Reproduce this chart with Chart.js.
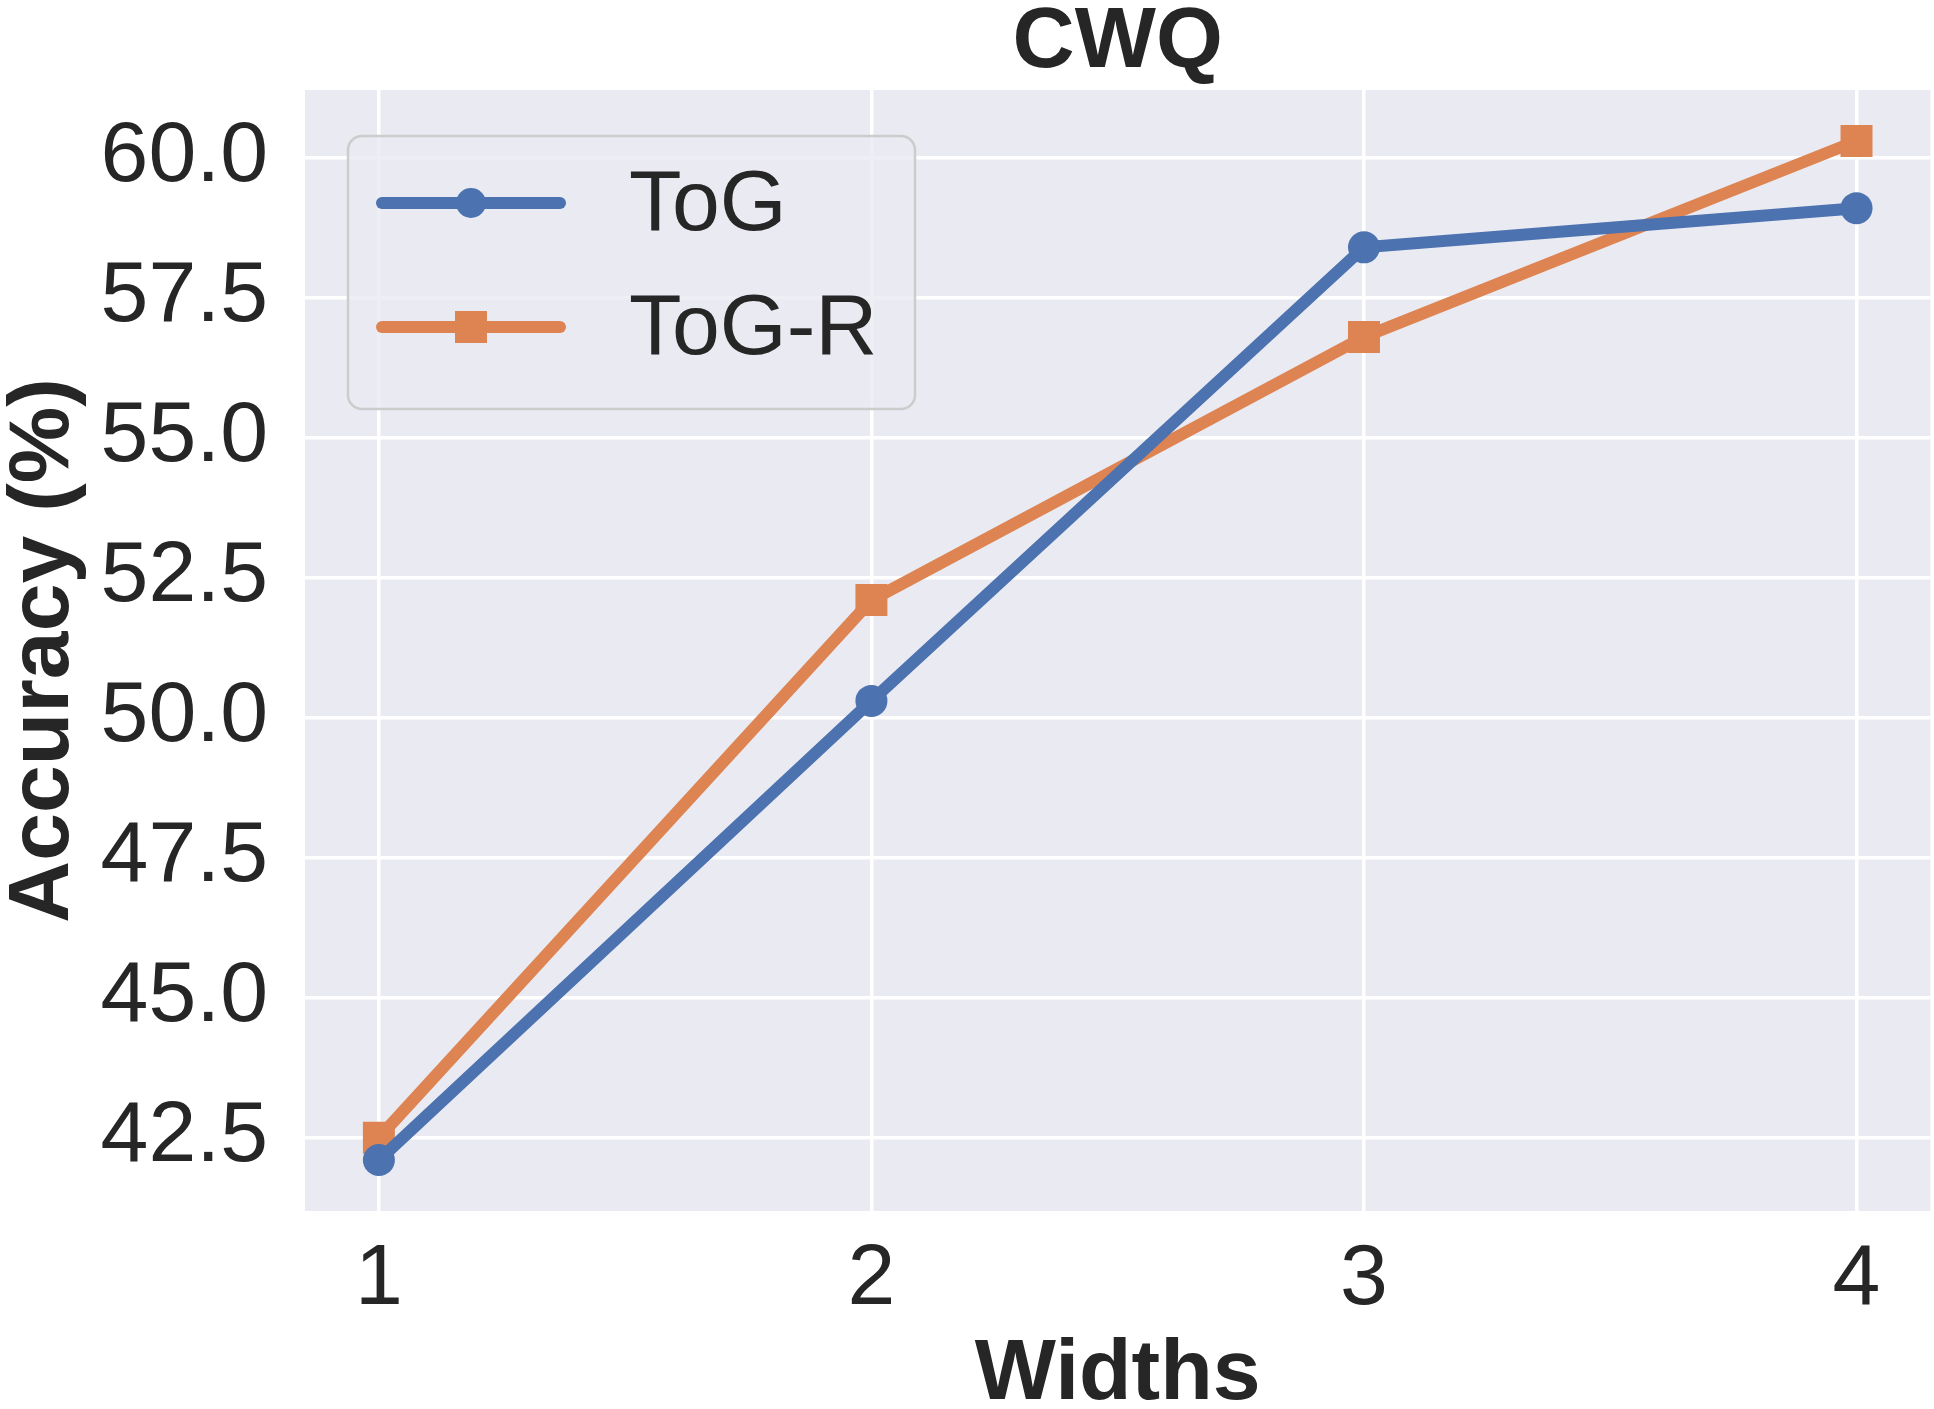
<!DOCTYPE html>
<html>
<head>
<meta charset="utf-8">
<script src="https://cdn.jsdelivr.net/npm/chart.js@4.4.0/dist/chart.umd.min.js"></script>
<style>
  html, body { margin: 0; padding: 0; overflow: hidden; background: #ffffff; }
  /* a little wider than the window: Chart.js keeps ~19px spare on the right for the last x label */
  #wrap { position: relative; width: 1953px; height: 1409px; }
</style>
</head>
<body>
<div id="wrap"><canvas id="cwq"></canvas></div>
<script>
var widths = [1, 2, 3, 4];
var togAcc = [42.1, 50.3, 58.4, 59.1];
var togRAcc = [42.5, 52.1, 56.8, 60.3];
var yTicks = [42.5, 45.0, 47.5, 50.0, 52.5, 55.0, 57.5, 60.0];
var xTicks = [1, 2, 3, 4];

var FONT = "'Liberation Sans', Arial, sans-serif";
var TEXT = '#262626';

function toPoints(vals) {
    return widths.map(function (w, i) { return { x: w, y: vals[i] }; });
}

// grey plot background like seaborn darkgrid
var bgPlugin = {
    id: 'plotBg',
    beforeDraw: function (chart) {
        var a = chart.chartArea, c = chart.ctx;
        c.save();
        c.fillStyle = '#EAEAF2';
        c.fillRect(a.left, a.top, a.right - a.left, a.bottom - a.top);
        c.restore();
    }
};

// legend drawn inside the plot, upper left
var innerLegend = {
    id: 'innerLegend',
    afterDraw: function (chart) {
        var c = chart.ctx;
        var bx = 348, by = 136, bw = 567, bh = 273, r = 14;
        c.save();
        c.beginPath();
        c.moveTo(bx + r, by);
        c.arcTo(bx + bw, by, bx + bw, by + bh, r);
        c.arcTo(bx + bw, by + bh, bx, by + bh, r);
        c.arcTo(bx, by + bh, bx, by, r);
        c.arcTo(bx, by, bx + bw, by, r);
        c.closePath();
        c.fillStyle = 'rgba(234,234,242,0.8)';
        c.fill();
        c.strokeStyle = '#cccccc';
        c.lineWidth = 2.5;
        c.stroke();

        chart.data.datasets.forEach(function (ds, i) {
            var y = 203 + i * 124;
            c.strokeStyle = ds.borderColor;
            c.lineWidth = ds.borderWidth;
            c.lineCap = 'round';
            c.beginPath();
            c.moveTo(382, y);
            c.lineTo(560, y);
            c.stroke();
            c.fillStyle = ds.borderColor;
            if (ds.pointStyle === 'rect') {
                c.fillRect(471 - 16, y - 16, 32, 32);
            } else {
                c.beginPath();
                c.arc(471, y, 15, 0, Math.PI * 2);
                c.fill();
            }
            c.fillStyle = TEXT;
            c.font = '86px ' + FONT;
            c.textBaseline = 'middle';
            c.textAlign = 'left';
            c.fillText(ds.label, 629, y + 3);
        });
        c.restore();
    }
};

var ctx = document.getElementById('cwq');

var myChart = new Chart(ctx, {
    type: 'line',
    data: {
        datasets: [
            {
                label: 'ToG',
                data: toPoints(togAcc),
                borderColor: '#4C72B0',
                backgroundColor: '#4C72B0',
                borderWidth: 12,
                pointStyle: 'circle',
                pointRadius: 16,
                pointBorderWidth: 0,
                tension: 0
            },
            {
                label: 'ToG-R',
                data: toPoints(togRAcc),
                borderColor: '#DD8452',
                backgroundColor: '#DD8452',
                borderWidth: 12,
                pointStyle: 'rect',
                pointRadius: 22.6,
                pointBorderWidth: 0,
                tension: 0
            }
        ]
    },
    options: {
        responsive: true,
        maintainAspectRatio: false,
        animation: false,
        layout: { padding: { left: 0, right: 4, top: 0, bottom: 0 } },
        plugins: {
            legend: { display: false },
            tooltip: { enabled: false },
            title: {
                display: true,
                text: 'CWQ',
                fullSize: false,
                color: TEXT,
                font: { family: FONT, size: 86, weight: 'bold', lineHeight: 1 },
                padding: { top: 0, bottom: 4 }
            }
        },
        scales: {
            x: {
                type: 'linear',
                min: 0.85,
                max: 4.15,
                afterBuildTicks: function (scale) {
                    scale.ticks = xTicks.map(function (v) { return { value: v }; });
                },
                afterFit: function (scale) { scale.height = 198; },
                grid: { color: '#ffffff', lineWidth: 3.5, drawTicks: false },
                border: { display: false },
                ticks: {
                    color: TEXT,
                    padding: 18,
                    font: { family: FONT, size: 86 },
                    callback: function (v) { return String(v); }
                },
                title: {
                    display: true,
                    text: 'Widths',
                    color: TEXT,
                    font: { family: FONT, size: 86, weight: 'bold', lineHeight: 1 },
                    padding: { top: 0, bottom: -9 }
                }
            },
            y: {
                type: 'linear',
                min: 41.19,
                max: 61.21,
                afterBuildTicks: function (scale) {
                    scale.ticks = yTicks.map(function (v) { return { value: v }; });
                },
                afterFit: function (scale) { scale.width = 305; },
                grid: { color: '#ffffff', lineWidth: 3.5, drawTicks: false },
                border: { display: false },
                ticks: {
                    color: TEXT,
                    padding: 37,
                    font: { family: FONT, size: 86 },
                    callback: function (v) { return v.toFixed(1); }
                },
                title: {
                    display: true,
                    text: 'Accuracy (%)',
                    color: TEXT,
                    font: { family: FONT, size: 86, weight: 'bold', lineHeight: 1 },
                    padding: { top: 1, bottom: 0 }
                }
            }
        }
    },
    plugins: [bgPlugin, innerLegend]
});
</script>
</body>
</html>
